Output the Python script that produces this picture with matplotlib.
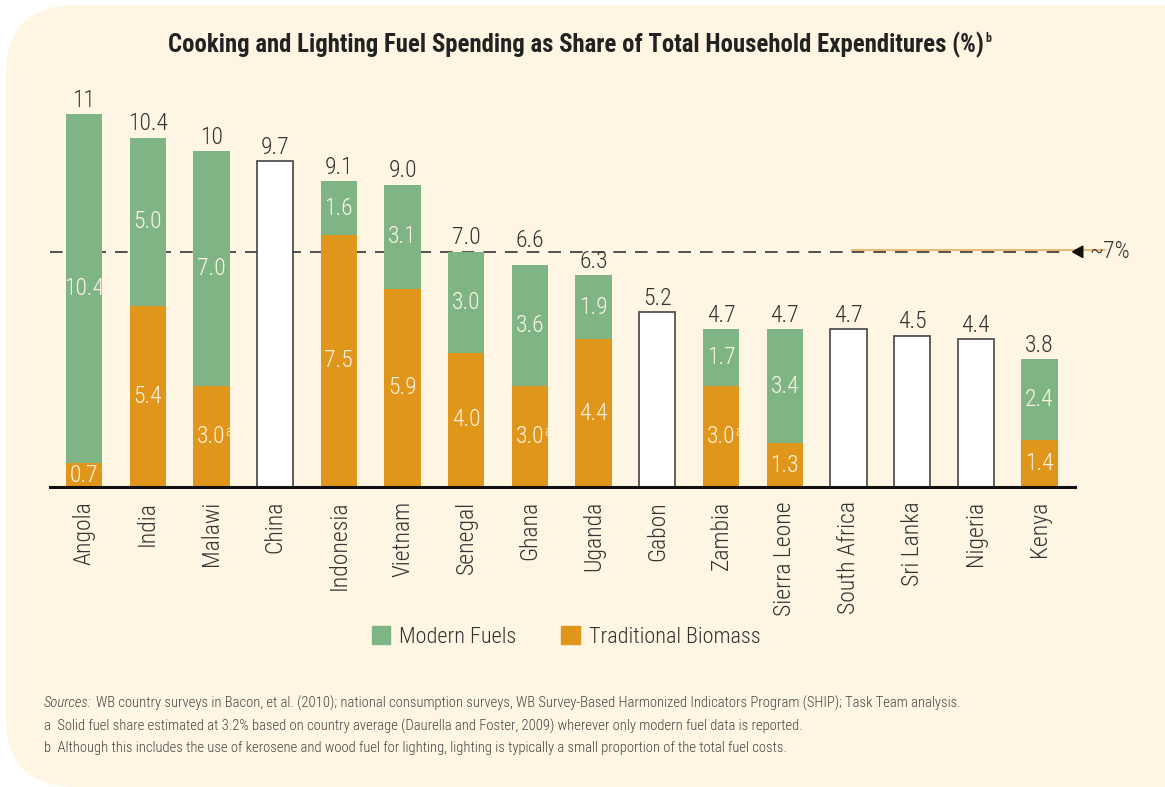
import numpy as np
import matplotlib
matplotlib.use("Agg")
import matplotlib.pyplot as plt
from matplotlib.patches import FancyBboxPatch, Patch, Polygon

plt.rcParams['font.family'] = ['Roboto Condensed', 'DejaVu Sans']
plt.rcParams['font.weight'] = 300

# data
countries = ["Angola", "India", "Malawi", "China", "Indonesia", "Vietnam", "Senegal",
             "Ghana", "Uganda", "Gabon", "Zambia", "Sierra Leone", "South Africa",
             "Sri Lanka", "Nigeria", "Kenya"]
biomass = [0.7, 5.4, 3.0, np.nan, 7.5, 5.9, 4.0, 3.0, 4.4, np.nan, 3.0, 1.3,
           np.nan, np.nan, np.nan, 1.4]
modern = [10.4, 5.0, 7.0, np.nan, 1.6, 3.1, 3.0, 3.6, 1.9, np.nan, 1.7, 3.4,
          np.nan, np.nan, np.nan, 2.4]
totals = [11, 10.4, 10, 9.7, 9.1, 9.0, 7.0, 6.6, 6.3, 5.2, 4.7, 4.7, 4.7, 4.5, 4.4, 3.8]
total_labels = ["11", "10.4", "10", "9.7", "9.1", "9.0", "7.0", "6.6", "6.3", "5.2",
                "4.7", "4.7", "4.7", "4.5", "4.4", "3.8"]
estimated = ["Malawi", "Ghana", "Zambia"]  # footnote a
threshold = 7

GREEN = "#7fb584"
ORANGE = "#e0961a"
CREAM = "#fef5e3"
TEXT = "#333333"
LABEL = "#fff5e2"

W, H = 1165, 787
fig = plt.figure(figsize=(W / 100, H / 100), dpi=100)
fig.patch.set_facecolor("white")

# rounded cream panel (right side runs off the page)
panel = FancyBboxPatch((6 / W, 0.0), 1.2, (H - 5) / H,
                       boxstyle="round,pad=0,rounding_size=0.06",
                       transform=fig.transFigure, facecolor=CREAM, edgecolor="none",
                       mutation_aspect=W / H, zorder=-5)
fig.patches.append(panel)

x = np.arange(len(countries))
step = 63.7
left_px, right_px, base_px, top_px = 50, 1075, 487, 84
ax = fig.add_axes([left_px / W, (H - base_px) / H, (right_px - left_px) / W,
                   (base_px - top_px) / H])
ax.set_facecolor("none")
ax.set_xlim((left_px - 84) / step, (right_px - 84) / step)
ax.set_ylim(0, (base_px - top_px) / 33.6)

bw = 0.57
b = np.nan_to_num(np.array(biomass, dtype=float))
m = np.nan_to_num(np.array(modern, dtype=float))
t = np.array(totals, dtype=float)
stacked = ~np.isnan(np.array(biomass, dtype=float))

ax.bar(x[stacked], b[stacked], width=bw, color=ORANGE, zorder=2)
ax.bar(x[stacked], m[stacked], bottom=b[stacked], width=bw, color=GREEN, zorder=2)
ax.bar(x[~stacked], t[~stacked], width=bw, facecolor="white", edgecolor="#444444",
       linewidth=1.2, zorder=2)

# Ghana's total label sits above the dashed line in the original
nudge = {"Ghana": 0.33}

for i in range(len(countries)):
    top = b[i] + m[i] if stacked[i] else t[i]
    ax.text(x[i], top + 0.22 + nudge.get(countries[i], 0), total_labels[i],
            ha="center", va="baseline", fontsize=17, color=TEXT)
    if stacked[i]:
        ax.text(x[i], b[i] / 2, f"{b[i]:.1f}", ha="center", va="center",
                fontsize=17, color=LABEL, zorder=3)
        ax.text(x[i], b[i] + m[i] / 2, f"{m[i]:.1f}", ha="center", va="center",
                fontsize=17, color=LABEL, zorder=3)
        if countries[i] in estimated:
            ax.annotate("a", (x[i], b[i] / 2), xytext=(10, 3.5),
                        textcoords="offset points", ha="left", va="center",
                        fontsize=10, color=LABEL, zorder=3)

# ~7% reference line
ax.plot([ax.get_xlim()[0], 15.4], [threshold, threshold], color="#444444",
        lw=1.3, dashes=(7, 5), zorder=1, clip_on=False)
ax.plot([12.06, 16.03], [threshold + 0.05, threshold + 0.05], color="#e8b060",
        lw=1.2, zorder=1, clip_on=False)
tip = 15.52
ax.add_patch(Polygon([[tip, threshold], [tip + 0.16, threshold + 0.17],
                      [tip + 0.16, threshold - 0.17]], closed=True,
                     color="#111111", clip_on=False, zorder=3))
ax.text(tip + 0.27, threshold, "~7%", ha="left", va="center", fontsize=17,
        color=TEXT, clip_on=False)

for s in ["top", "right", "left"]:
    ax.spines[s].set_visible(False)
ax.spines["bottom"].set_linewidth(2.2)
ax.spines["bottom"].set_color("#111111")
ax.set_yticks([])
ax.set_xticks(x)
ax.set_xticklabels(countries, rotation=90, fontsize=17, color=TEXT, va="top")
ax.tick_params(axis="x", length=0, pad=10)

title = fig.text(576 / W, 1 - 45 / H,
                 "Cooking and Lighting Fuel Spending as Share of Total Household Expenditures (%)",
                 ha="center", va="center", fontsize=17.8, fontweight="bold", color="#222222")
fig.canvas.draw()
bb = title.get_window_extent()
fig.text((bb.x1 + 1) / W, 1 - 38 / H, "b", ha="left", va="center", fontsize=8.5,
         fontweight="bold", color="#222222")

handles = [Patch(color=GREEN, label="Modern Fuels"),
           Patch(color=ORANGE, label="Traditional Biomass")]
fig.legend(handles=handles, loc="center", bbox_to_anchor=(566 / W, 1 - 637 / H),
           ncol=2, frameon=False, fontsize=16, handlelength=0.85, handleheight=0.85,
           handletextpad=0.4, columnspacing=2.0, labelcolor=TEXT)

foot_color = "#444444"
src = fig.text(44 / W, 1 - 703 / H, "Sources:", style="italic", fontsize=10.5,
               color=foot_color, va="center")
fig.canvas.draw()
sb = src.get_window_extent()
fig.text((sb.x1 + 4) / W, 1 - 703 / H,
         "WB country surveys in Bacon, et al. (2010); national consumption surveys, "
         "WB Survey-Based Harmonized Indicators Program (SHIP); Task Team analysis.",
         fontsize=10.5, color=foot_color, va="center")
fig.text(44 / W, 1 - 726 / H,
         "a  Solid fuel share estimated at 3.2% based on country average (Daurella and "
         "Foster, 2009) wherever only modern fuel data is reported.",
         fontsize=10.5, color=foot_color, va="center")
fig.text(44 / W, 1 - 748 / H,
         "b  Although this includes the use of kerosene and wood fuel for lighting, "
         "lighting is typically a small proportion of the total fuel costs.",
         fontsize=10.5, color=foot_color, va="center")

fig.savefig("out.png", dpi=100, facecolor=fig.get_facecolor())
